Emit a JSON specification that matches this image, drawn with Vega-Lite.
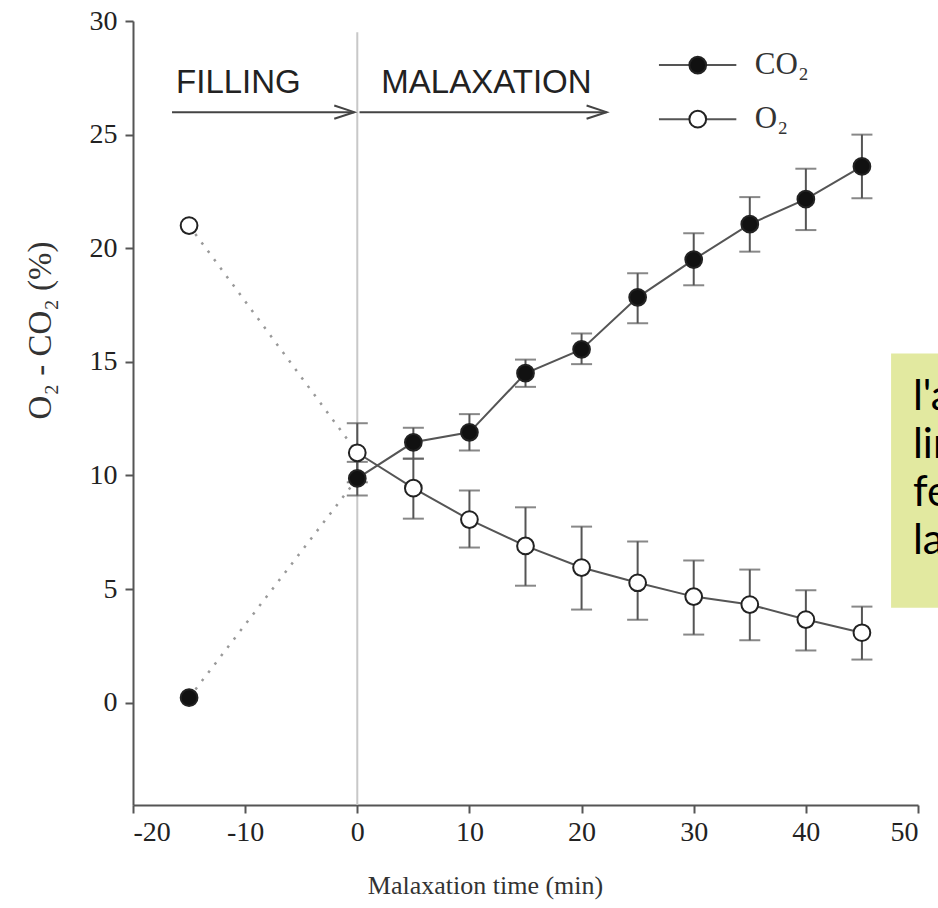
{
  "$schema": "https://vega.github.io/schema/vega-lite/v6.json",
  "width": 785,
  "height": 784,
  "autosize": "none",
  "padding": {"left": 133, "top": 21, "right": 20, "bottom": 103},
  "background": "white",
  "config": {
    "view": {"stroke": null},
    "axis": {
      "grid": false,
      "domainColor": "#555",
      "domainWidth": 2,
      "tickColor": "#555",
      "tickWidth": 2,
      "tickSize": 8,
      "labelFont": "Liberation Serif",
      "labelFontSize": 28,
      "labelColor": "#222",
      "titleFont": "Liberation Serif",
      "titleFontSize": 26,
      "titleFontWeight": "normal",
      "titleColor": "#333"
    }
  },
  "datasets": {
    "pts": [
      {"s": "CO2", "x": -15, "y": 0.22},
      {"s": "CO2", "x": 0, "y": 9.87, "lo": 9.12, "hi": 10.6},
      {"s": "CO2", "x": 5, "y": 11.46, "lo": 10.74, "hi": 12.1},
      {"s": "CO2", "x": 10, "y": 11.9, "lo": 11.1, "hi": 12.7},
      {"s": "CO2", "x": 15, "y": 14.5, "lo": 13.9, "hi": 15.1},
      {"s": "CO2", "x": 20, "y": 15.55, "lo": 14.9, "hi": 16.25},
      {"s": "CO2", "x": 25, "y": 17.84, "lo": 16.7, "hi": 18.9},
      {"s": "CO2", "x": 30, "y": 19.5, "lo": 18.37, "hi": 20.66},
      {"s": "CO2", "x": 35, "y": 21.06, "lo": 19.85, "hi": 22.25},
      {"s": "CO2", "x": 40, "y": 22.16, "lo": 20.8, "hi": 23.5},
      {"s": "CO2", "x": 45, "y": 23.6, "lo": 22.2, "hi": 25.0},
      {"s": "O2", "x": -15, "y": 21.0},
      {"s": "O2", "x": 0, "y": 11.0, "lo": 9.7, "hi": 12.3},
      {"s": "O2", "x": 5, "y": 9.44, "lo": 8.1, "hi": 10.74},
      {"s": "O2", "x": 10, "y": 8.06, "lo": 6.83, "hi": 9.34},
      {"s": "O2", "x": 15, "y": 6.9, "lo": 5.15, "hi": 8.6},
      {"s": "O2", "x": 20, "y": 5.95, "lo": 4.1, "hi": 7.75},
      {"s": "O2", "x": 25, "y": 5.28, "lo": 3.65, "hi": 7.1},
      {"s": "O2", "x": 30, "y": 4.67, "lo": 3.0, "hi": 6.26},
      {"s": "O2", "x": 35, "y": 4.32, "lo": 2.75, "hi": 5.86},
      {"s": "O2", "x": 40, "y": 3.66, "lo": 2.3, "hi": 4.95},
      {"s": "O2", "x": 45, "y": 3.08, "lo": 1.9, "hi": 4.23}
    ],
    "legendLines": [
      {"s": "CO2", "x": 26.9, "y": 28.06},
      {"s": "CO2", "x": 33.8, "y": 28.06},
      {"s": "O2", "x": 26.9, "y": 25.68},
      {"s": "O2", "x": 33.8, "y": 25.68}
    ],
    "legendPts": [
      {"s": "CO2", "x": 30.36, "y": 28.06},
      {"s": "O2", "x": 30.36, "y": 25.68}
    ],
    "legendText": [
      {"x": 35.45, "y": 27.65, "t": "CO₂"},
      {"x": 35.45, "y": 25.28, "t": "O₂"}
    ],
    "arrows": [
      {"x": -16.52, "x2": -0.27, "y": 25.99},
      {"x": 0.2, "x2": 22.23, "y": 25.99}
    ],
    "heads": [
      {"x": -0.27, "y": 25.99},
      {"x": 22.23, "y": 25.99}
    ],
    "phaseText": [
      {"x": -16.16, "y": 26.83, "t": "FILLING"},
      {"x": 2.14, "y": 26.83, "t": "MALAXATION"}
    ],
    "vline": [{"x": 0, "y": -4.5, "y2": 29.5}],
    "box": [{"x": 47.6, "x2": 52, "y": 15.37, "y2": 4.18}],
    "boxText": [
      {"x": 49.55, "y": 12.88, "t": "l'a"},
      {"x": 49.55, "y": 10.77, "t": "lin"},
      {"x": 49.55, "y": 8.65, "t": "fe"},
      {"x": 49.55, "y": 6.54, "t": "la"}
    ]
  },
  "encoding": {
    "x": {
      "field": "x",
      "type": "quantitative",
      "scale": {"domain": [-20, 50], "nice": false, "zero": false},
      "axis": {
        "values": [-20, -10, 0, 10, 20, 30, 40, 50],
        "labelExpr": "'' + datum.value",
        "title": "Malaxation time (min)",
        "labelPadding": 5,
        "titleX": 352,
        "titleY": 80,
        "titleBaseline": "middle",
        "titleAnchor": null
      }
    },
    "y": {
      "field": "y",
      "type": "quantitative",
      "scale": {"domain": [-4.5, 30], "nice": false, "zero": false},
      "axis": {
        "values": [0, 5, 10, 15, 20, 25, 30],
        "labelExpr": "'' + datum.value",
        "title": "O₂ - CO₂ (%)",
        "labelPadding": 8,
        "titleFontSize": 33,
        "titleX": -93,
        "titleY": 309,
        "titleAngle": -90,
        "titleAlign": "center",
        "titleBaseline": "middle"
      }
    }
  },
  "layer": [
    {
      "data": {"name": "vline"},
      "mark": {"type": "rule", "color": "#c8c8c8", "strokeWidth": 2},
      "encoding": {"y2": {"field": "y2"}}
    },
    {
      "data": {"name": "box"},
      "mark": {"type": "rect", "color": "#e2e9a0"},
      "encoding": {"x2": {"field": "x2"}, "y2": {"field": "y2"}}
    },
    {
      "data": {"name": "boxText"},
      "mark": {"type": "text", "font": "Lato", "fontSize": 42, "align": "left", "baseline": "alphabetic", "color": "#000"},
      "encoding": {"text": {"field": "t"}}
    },
    {
      "data": {"name": "pts"},
      "transform": [{"filter": "datum.x <= 0"}],
      "mark": {"type": "line", "color": "#999", "strokeWidth": 2.5, "strokeDash": [2.5, 8]},
      "encoding": {"detail": {"field": "s"}}
    },
    {
      "data": {"name": "pts"},
      "transform": [{"filter": "datum.x >= 0"}],
      "mark": {"type": "line", "color": "#555", "strokeWidth": 2},
      "encoding": {"detail": {"field": "s"}}
    },
    {
      "data": {"name": "pts"},
      "transform": [{"filter": "isValid(datum.lo)"}],
      "mark": {"type": "rule", "color": "#555", "strokeWidth": 2},
      "encoding": {"y": {"field": "lo", "type": "quantitative"}, "y2": {"field": "hi"}}
    },
    {
      "data": {"name": "pts"},
      "transform": [{"filter": "isValid(datum.lo)"}],
      "mark": {"type": "tick", "orient": "horizontal", "size": 21, "thickness": 2, "color": "#555"},
      "encoding": {"y": {"field": "lo", "type": "quantitative"}}
    },
    {
      "data": {"name": "pts"},
      "transform": [{"filter": "isValid(datum.hi)"}],
      "mark": {"type": "tick", "orient": "horizontal", "size": 21, "thickness": 2, "color": "#555"},
      "encoding": {"y": {"field": "hi", "type": "quantitative"}}
    },
    {
      "data": {"name": "pts"},
      "mark": {"type": "point", "shape": "circle", "filled": true, "size": 280, "stroke": "#222", "strokeWidth": 2, "opacity": 1},
      "encoding": {
        "fill": {"field": "s", "type": "nominal", "scale": {"domain": ["CO2", "O2"], "range": ["#111", "#fff"]}, "legend": null}
      }
    },
    {
      "data": {"name": "legendLines"},
      "mark": {"type": "line", "color": "#555", "strokeWidth": 2},
      "encoding": {"detail": {"field": "s"}}
    },
    {
      "data": {"name": "legendPts"},
      "mark": {"type": "point", "shape": "circle", "filled": true, "size": 280, "stroke": "#222", "strokeWidth": 2, "opacity": 1},
      "encoding": {
        "fill": {"field": "s", "type": "nominal", "scale": {"domain": ["CO2", "O2"], "range": ["#111", "#fff"]}, "legend": null}
      }
    },
    {
      "data": {"name": "legendText"},
      "mark": {"type": "text", "font": "Liberation Serif", "fontSize": 31, "align": "left", "baseline": "alphabetic", "color": "#333"},
      "encoding": {"text": {"field": "t"}}
    },
    {
      "data": {"name": "arrows"},
      "mark": {"type": "rule", "color": "#444", "strokeWidth": 2},
      "encoding": {"x2": {"field": "x2"}}
    },
    {
      "data": {"name": "heads"},
      "mark": {"type": "point", "shape": "M-1,-0.33L0,0L-1,0.33", "size": 1600, "filled": false, "stroke": "#444", "strokeWidth": 2, "opacity": 1}
    },
    {
      "data": {"name": "phaseText"},
      "mark": {"type": "text", "font": "Liberation Sans", "fontSize": 33, "align": "left", "baseline": "alphabetic", "color": "#222"},
      "encoding": {"text": {"field": "t"}}
    }
  ]
}
